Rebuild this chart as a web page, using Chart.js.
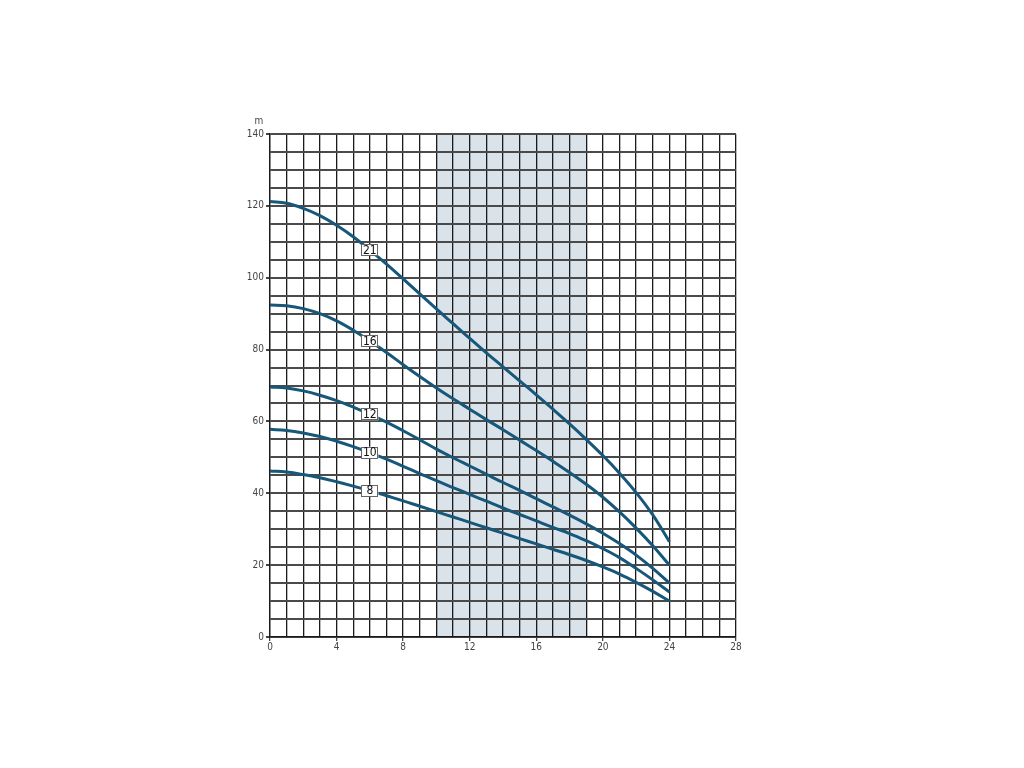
<!DOCTYPE html>
<html>
<head>
<meta charset="utf-8">
<script src="https://cdn.jsdelivr.net/npm/chart.js@4.4.1/dist/chart.umd.min.js"></script>
<style>
  html, body { margin: 0; padding: 0; background: #ffffff; }
  #wrap { width: 1024px; height: 768px; position: relative; }
</style>
</head>
<body>
<div id="wrap"><canvas id="c" width="1024" height="768"></canvas></div>
<script>
// ---- data ----
const flow = [0,1,2,3,4,5,6,7,8,9,10,11,12,13,14,15,16,17,18,19,20,21,22,23,24];
const head21 = [121.2,120.7,119.3,117.3,114.6,111.4,107.7,103.8,99.7,95.5,91.3,87.2,83.1,79.1,75.2,71.3,67.4,63.4,59.3,55.0,50.5,45.6,40.2,34.0,26.5];
const head16 = [92.4,92.2,91.4,90.0,88.0,85.4,82.4,79.2,75.8,72.5,69.3,66.3,63.4,60.5,57.7,54.8,51.9,48.9,45.8,42.5,38.9,34.8,30.3,25.4,20.0];
const head12 = [69.6,69.3,68.5,67.3,65.8,64.0,62.0,59.8,57.4,54.9,52.3,49.9,47.6,45.3,43.0,40.8,38.5,36.2,33.9,31.5,28.9,26.0,22.8,19.1,15.0];
const head10 = [57.8,57.5,56.8,55.8,54.5,53.0,51.3,49.5,47.5,45.5,43.5,41.6,39.7,37.8,35.9,34.1,32.3,30.5,28.8,26.8,24.6,22.1,19.1,15.9,12.5];
const head8  = [46.2,45.9,45.2,44.3,43.2,42.0,40.7,39.3,37.9,36.4,34.9,33.4,31.9,30.4,28.9,27.4,25.9,24.4,22.9,21.3,19.5,17.5,15.2,12.7,10.0];
const curveNames = ['21','16','12','10','8'];
const labelAtFlow = 6;
const band = [10, 19];
const xTickLabels = [0,4,8,12,16,20,24,28];
const yTickLabels = [0,20,40,60,80,100,120,140];
const xUnit = 'm³/h';
const yUnit = 'm';

const curveColor = '#17577a';
const allHeads = [head21, head16, head12, head10, head8];
const toPts = arr => flow.map((f, i) => ({x: f, y: arr[i]}));

const fontFam = "'Liberation Sans Narrow', 'DejaVu Sans Condensed', 'Liberation Sans', sans-serif";

const bandPlugin = {
  id: 'band',
  beforeDraw(chart) {
    const {ctx, chartArea, scales} = chart;
    const x0 = scales.x.getPixelForValue(band[0]);
    const x1 = scales.x.getPixelForValue(band[1]);
    ctx.save();
    ctx.fillStyle = '#dae3ea';
    ctx.fillRect(x0, chartArea.top, x1 - x0, chartArea.bottom - chartArea.top);
    ctx.restore();
  }
};

const labelPlugin = {
  id: 'curveLabels',
  afterDatasetsDraw(chart) {
    const {ctx, scales} = chart;
    ctx.save();
    ctx.font = "12px " + fontFam;
    ctx.textAlign = 'center';
    ctx.textBaseline = 'middle';
    chart.data.datasets.forEach((ds, i) => {
      const idx = flow.indexOf(labelAtFlow);
      const px = scales.x.getPixelForValue(labelAtFlow);
      const py = scales.y.getPixelForValue(ds.data[idx].y);
      const w = 17, h = 12;
      ctx.fillStyle = '#ffffff';
      ctx.fillRect(px - w/2, py - h/2, w, h);
      ctx.strokeStyle = '#666';
      ctx.lineWidth = 1;
      ctx.strokeRect(Math.round(px - w/2) + 0.5, Math.round(py - h/2) + 0.5, w - 1, h - 1);
      ctx.fillStyle = '#111';
      ctx.fillText(ds.label, px, py + 0.5);
    });
    // axis units
    ctx.fillStyle = '#444';
    ctx.font = "10px " + fontFam;
    ctx.textAlign = 'center';
    ctx.fillText(yUnit, scales.y.right - 11, scales.y.top - 13);
    ctx.textAlign = 'left';
    ctx.fillText(xUnit, scales.x.right + 8, scales.x.bottom + 10);
    ctx.restore();
  }
};

new Chart(document.getElementById('c'), {
  type: 'line',
  data: {
    datasets: allHeads.map((arr, i) => ({
      label: curveNames[i],
      data: toPts(arr),
      borderColor: curveColor,
      borderWidth: 3,
      pointRadius: 0,
      fill: false,
      tension: 0.4
    }))
  },
  options: {
    responsive: false,
    animation: false,
    devicePixelRatio: 1,
    layout: { padding: { top: 134, right: 288, left: 0, bottom: 0 } },
    plugins: { legend: { display: false }, tooltip: { enabled: false } },
    scales: {
      x: {
        type: 'linear',
        min: 0, max: 28,
        afterFit(s) { s.height = 131; },
        ticks: {
          stepSize: 1, autoSkip: false, maxRotation: 0, padding: 0,
          color: '#444', font: { size: 10, family: fontFam },
          callback: v => xTickLabels.includes(v) ? String(v) : ''
        },
        grid: {
          color: '#1a1a1a', lineWidth: 1.3, tickLength: 4,
          tickColor: c => (c.tick && xTickLabels.includes(c.tick.value)) ? '#444' : 'rgba(0,0,0,0)'
        },
        border: { color: '#1a1a1a', width: 1.3 }
      },
      y: {
        type: 'linear',
        min: 0, max: 140,
        afterFit(s) { s.width = 270; },
        ticks: {
          stepSize: 5, autoSkip: false, padding: 2, maxTicksLimit: 100,
          color: '#444', font: { size: 10, family: fontFam },
          callback: v => yTickLabels.includes(v) ? String(v) : ''
        },
        grid: {
          color: '#4a4a4a', lineWidth: 2, tickLength: 4,
          tickColor: c => (c.tick && yTickLabels.includes(c.tick.value)) ? '#444' : 'rgba(0,0,0,0)'
        },
        border: { color: '#1a1a1a', width: 1.3 }
      }
    }
  },
  plugins: [bandPlugin, labelPlugin]
});
</script>
</body>
</html>
